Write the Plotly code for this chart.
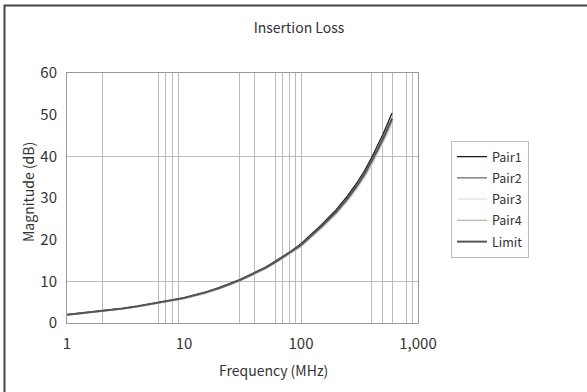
import plotly.graph_objects as go

freq = [1, 1.5, 2, 3, 4, 5, 6, 8, 10, 15, 20, 30, 40, 50, 60, 80, 100,
        150, 200, 250, 300, 350, 400, 450, 500, 550, 600]
pair1 = [2.0, 2.5, 2.9, 3.5, 4.0, 4.5, 4.9, 5.5, 6.0, 7.3, 8.5, 10.4, 12.0, 13.4, 14.8, 17.0, 19.0,
         23.6, 27.2, 30.5, 33.6, 36.6, 39.6, 42.5, 45.2, 47.9, 50.4]
pair2 = [2.0, 2.5, 2.9, 3.5, 4.0, 4.5, 4.9, 5.5, 6.0, 7.3, 8.4, 10.3, 11.9, 13.3, 14.7, 16.9, 18.8,
         23.3, 26.8, 30.0, 33.0, 35.9, 38.8, 41.6, 44.2, 46.7, 49.2]
pair3 = [1.9, 2.4, 2.8, 3.4, 3.9, 4.4, 4.8, 5.4, 5.9, 7.1, 8.2, 10.1, 11.6, 13.0, 14.3, 16.5, 18.3,
         22.7, 26.1, 29.2, 32.1, 34.9, 37.7, 40.4, 42.9, 45.3, 47.6]
pair4 = [1.9, 2.4, 2.8, 3.4, 3.9, 4.4, 4.8, 5.4, 5.9, 7.1, 8.2, 10.1, 11.7, 13.1, 14.4, 16.6, 18.4,
         22.9, 26.3, 29.4, 32.4, 35.2, 38.0, 40.8, 43.4, 45.9, 48.4]
limit = [2.0, 2.5, 2.9, 3.5, 4.0, 4.5, 4.9, 5.5, 6.0, 7.3, 8.4, 10.3, 11.9, 13.3, 14.6, 16.8, 18.7,
         23.2, 26.7, 29.9, 32.9, 35.8, 38.7, 41.5, 44.1, 46.6, 49.0]

series = [("Pair1", pair1, "#1a1a1a", 1.3),
          ("Pair2", pair2, "#6e6e6e", 1.3),
          ("Pair3", pair3, "#e2e2e2", 1.3),
          ("Pair4", pair4, "#bdbdbd", 1.5),
          ("Limit", limit, "#555555", 2.0)]

x_ticks = [1, 10, 100, 1000]
x_ticktext = ["1", "10", "100", "1,000"]
x_grid = [2, 6, 7, 8, 9, 30, 40, 60, 70, 80, 90, 100, 400, 500, 600, 800, 900]
y_ticks = [0, 10, 20, 30, 40, 50, 60]
y_grid = [10, 40]

FONT = "Noto Sans CJK JP, Liberation Sans, sans-serif"
TXT = "#333333"

fig = go.Figure()
for name, vals, color, w in series:
    fig.add_trace(go.Scatter(x=freq, y=vals, mode="lines", name=name, legendgroup=name,
                             line=dict(color=color, width=w)))

L, T, W, H = 67, 73, 351, 250

fig.update_layout(
    width=587, height=392,
    margin=dict(l=L, r=587 - L - W, t=T, b=392 - T - H),
    paper_bgcolor="white", plot_bgcolor="white",
    font=dict(family=FONT, size=15, color=TXT),
    title=dict(text="Insertion Loss", x=299 / 587, xref="container", xanchor="center",
               y=1 - 28 / 392, yref="container", yanchor="middle",
               font=dict(size=14, color=TXT)),
    showlegend=True,
    legend=dict(x=(451 - L) / W, xanchor="left", y=(T + H - 141) / H, yanchor="top",
                bordercolor="#bbbbbb", borderwidth=1, bgcolor="white",
                font=dict(size=12.5, color=TXT), tracegroupgap=2, itemwidth=30),
    xaxis=dict(type="log", range=[0, 3], tickvals=x_ticks, ticktext=x_ticktext,
               showgrid=False, showline=True, mirror=True, linecolor="#999999", linewidth=1,
               ticks="outside", ticklen=7, tickcolor="rgba(0,0,0,0)",
               zeroline=False, tickfont=dict(size=15),
               minor=dict(tickvals=x_grid, showgrid=True, gridcolor="#bbbbbb", gridwidth=1, ticks="")),
    yaxis=dict(range=[0, 60], tickvals=y_ticks, showgrid=False,
               showline=True, mirror=True, linecolor="#999999", linewidth=1,
               ticks="outside", ticklen=6, tickcolor="rgba(0,0,0,0)", zeroline=False,
               tickfont=dict(size=15),
               minor=dict(tickvals=y_grid, showgrid=True, gridcolor="#bbbbbb", gridwidth=1, ticks="")),
    annotations=[
        dict(text="Frequency (MHz)", xref="paper", yref="paper",
             x=(273 - L) / W, y=(T + H - 370) / H, xanchor="center", yanchor="middle",
             showarrow=False, font=dict(size=14, color=TXT)),
        dict(text="Magnitude (dB)", xref="paper", yref="paper", textangle=-90,
             x=(28 - L) / W, y=(T + H - 192) / H, xanchor="center", yanchor="middle",
             showarrow=False, font=dict(size=14, color=TXT)),
    ],
)

# outer chart frame (left and top edges visible, others run off the image)
fx0 = (4.5 - L) / W
fx1 = (587 - L) / W
fy0 = (T + H - 392) / H
fy1 = (T + H - 5.5) / H
fig.add_shape(type="path", xref="paper", yref="paper",
              path=f"M {fx0},{fy0} L {fx0},{fy1} L {fx1},{fy1}",
              line=dict(color="#444444", width=2), layer="below")

fig.write_html("out.html")
